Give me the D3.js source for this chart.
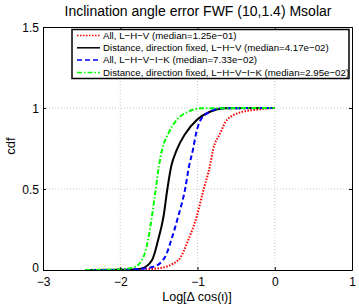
<!DOCTYPE html>
<html>
<head>
<meta charset="utf-8">
<script src="https://cdn.jsdelivr.net/npm/d3@7"></script>
<style>
  body { margin: 0; background: #fff; }
  svg text { font-family: "Liberation Sans", Arial, sans-serif; fill: #000; }
</style>
</head>
<body>
<div id="chart"></div>
<script>
// values (x = log10 of delta cos, y = cdf)
const redX   = [-2.45, -2.0, -1.75, -1.51, -1.25, -1.12, -1.01, -0.92, -0.84, -0.80, -0.71, -0.62, -0.43, -0.23, 0];
const redY   = [0, 0.001, 0.003, 0.01, 0.06, 0.185, 0.33, 0.5, 0.64, 0.74, 0.84, 0.926, 0.975, 0.99, 1.0];
const blackX = [-2.45, -2.0, -1.85, -1.72, -1.59, -1.51, -1.44, -1.39, -1.34, -1.27, -1.16, -1.01, -0.84, -0.65, 0];
const blackY = [0, 0.001, 0.003, 0.01, 0.06, 0.185, 0.33, 0.5, 0.64, 0.74, 0.84, 0.926, 0.977, 0.998, 1.0];
const blueX  = [-2.45, -2.0, -1.8, -1.57, -1.42, -1.34, -1.25, -1.16, -1.11, -1.06, -1.02, -0.96, -0.84, -0.69, 0];
const blueY  = [0, 0.001, 0.004, 0.02, 0.08, 0.185, 0.33, 0.5, 0.64, 0.74, 0.84, 0.926, 0.977, 0.998, 1.0];
const greenX = [-2.45, -2.0, -1.81, -1.70, -1.64, -1.59, -1.54, -1.50, -1.46, -1.38, -1.27, -1.12, -0.95, 0];
const greenY = [0, 0.003, 0.02, 0.08, 0.185, 0.33, 0.5, 0.64, 0.74, 0.84, 0.926, 0.977, 0.998, 1.0];

const legendLabels = [
  "All, L\u2212H\u2212V (median=1.25e\u221201)",
  "Distance, direction fixed, L\u2212H\u2212V (median=4.17e\u221202)",
  "All, L\u2212H\u2212V\u2212I\u2212K (median=7.33e\u221202)",
  "Distance, direction fixed, L\u2212H\u2212V\u2212I\u2212K (median=2.95e\u221202)"
];
const xTicks = [-3, -2, -1, 0, 1];
const yTicks = [0, 0.5, 1, 1.5];

const w = 359, h = 304;
const padL = 43, padR = 352, padT = 27, padB = 270;

const series = [
  {x: redX,   y: redY,   color: "#ff0000", dash: "1.5,1.5"},
  {x: blackX, y: blackY, color: "#000000", dash: null},
  {x: blueX,  y: blueY,  color: "#0000ff", dash: "5,3"},
  {x: greenX, y: greenY, color: "#00ff00", dash: "5,2,1.5,2"}
];

const xScale = d3.scaleLinear().domain([-3, 1]).range([padL, padR]);
const yScale = d3.scaleLinear().domain([0, 1.5]).range([padB, padT]);

const svg = d3.select("#chart").append("svg")
  .attr("width", w).attr("height", h);

// grid
svg.append("g").selectAll("line")
  .data(xTicks.slice(1, -1)).enter().append("line")
  .attr("x1", d => xScale(d)).attr("x2", d => xScale(d))
  .attr("y1", padT).attr("y2", padB)
  .attr("stroke", "#c8c8c8").attr("stroke-dasharray", "1,2");
svg.append("g").selectAll("line")
  .data(yTicks.slice(1, -1)).enter().append("line")
  .attr("y1", d => yScale(d)).attr("y2", d => yScale(d))
  .attr("x1", padL).attr("x2", padR)
  .attr("stroke", "#c8c8c8").attr("stroke-dasharray", "1,2");

// curves
const line = d3.line()
  .x(d => xScale(d[0])).y(d => yScale(d[1]))
  .curve(d3.curveMonotoneX);

series.forEach(s => {
  svg.append("path")
    .datum(s.x.map((v, i) => [v, s.y[i]]))
    .attr("d", line)
    .attr("fill", "none")
    .attr("stroke", s.color)
    .attr("stroke-width", 2)
    .attr("stroke-dasharray", s.dash);
});

// axes (box style, ticks inside)
const xAxis = d3.axisBottom(xScale).tickValues(xTicks).tickSizeInner(-3).tickSizeOuter(0)
  .tickFormat(d => d3.format("d")(d).replace("-", "\u2212"));
const yAxis = d3.axisLeft(yScale).tickValues(yTicks).tickSizeInner(-3).tickSizeOuter(0)
  .tickFormat(d => String(d));

svg.append("g").attr("transform", "translate(0," + padB + ")").call(xAxis)
  .call(g => g.selectAll("text").attr("dy", null).attr("y", 16).style("font-size", "12px"));
svg.append("g").attr("transform", "translate(" + padL + ",0)").call(yAxis)
  .call(g => g.selectAll("text").attr("x", -4)
    .attr("dy", d => d === 0 ? "0.15em" : "0.35em").style("font-size", "12px"));
svg.append("g").attr("transform", "translate(0," + padT + ")")
  .call(d3.axisTop(xScale).tickValues(xTicks).tickSizeInner(-3).tickSizeOuter(0).tickFormat(""));
svg.append("g").attr("transform", "translate(" + padR + ",0)")
  .call(d3.axisRight(yScale).tickValues(yTicks).tickSizeInner(-3).tickSizeOuter(0).tickFormat(""));
svg.selectAll(".domain").attr("stroke", "#000");
svg.selectAll(".tick line").attr("stroke", "#000");

// legend
const lg = svg.append("g");
lg.append("rect")
  .attr("x", 72).attr("y", 29.5).attr("width", 277).attr("height", 49)
  .attr("fill", "#fff").attr("stroke", "#000").attr("stroke-width", 1.5);
legendLabels.forEach((t, i) => {
  const yy = 35.5 + i * 12.3;
  lg.append("line")
    .attr("x1", 77).attr("x2", 100).attr("y1", yy).attr("y2", yy)
    .attr("stroke", series[i].color).attr("stroke-width", 1.5)
    .attr("stroke-dasharray", series[i].dash);
  lg.append("text")
    .attr("x", 103).attr("y", yy).attr("dy", "0.35em")
    .style("font-size", "9.7px").text(t);
});

// labels
svg.append("text").attr("x", 198).attr("y", 16).attr("text-anchor", "middle")
  .style("font-size", "14px").text("Inclination angle error FWF (10,1.4) Msolar");
svg.append("text").attr("x", 197).attr("y", 301).attr("text-anchor", "middle")
  .style("font-size", "12.5px").text("Log[\u0394 cos(\u03b9)]");
svg.append("text").attr("transform", "translate(15,146) rotate(-90)")
  .attr("text-anchor", "middle").style("font-size", "13px").text("cdf");
</script>
</body>
</html>
